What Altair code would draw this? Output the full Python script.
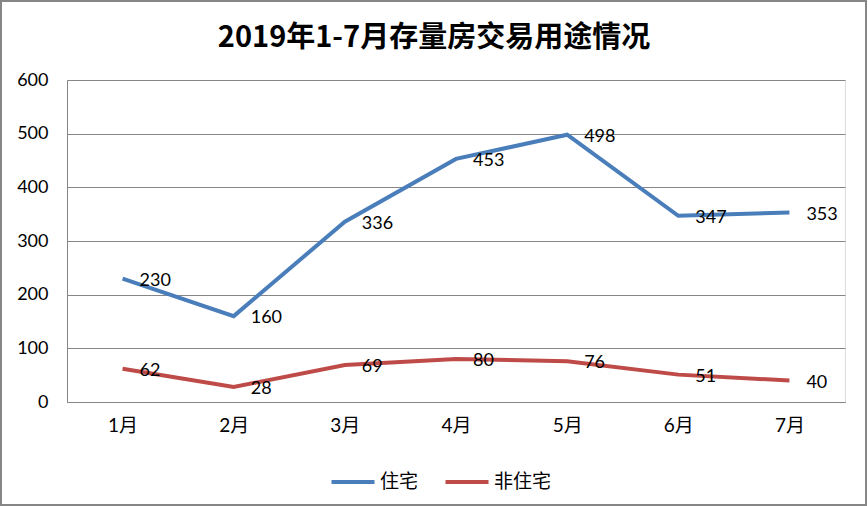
import altair as alt
import pandas as pd

months = ["1月", "2月", "3月", "4月", "5月", "6月", "7月"]
residential = [230, 160, 336, 453, 498, 347, 353]
non_residential = [62, 28, 69, 80, 76, 51, 40]
series_names = ["住宅", "非住宅"]
colors = ["#4A7EBB", "#BE4B48"]
title_text = "2019年1-7月存量房交易用途情况"

rows = []
for m, v in zip(months, residential):
    rows.append({"month": m, "value": v, "series": series_names[0]})
for m, v in zip(months, non_residential):
    rows.append({"month": m, "value": v, "series": series_names[1]})
df = pd.DataFrame(rows)

FONT = "Lato, Noto Sans CJK SC"
W, H = 778, 322

x = alt.X("month:N", sort=months, title=None,
          scale=alt.Scale(type="point", padding=0.5),
          axis=alt.Axis(labelAngle=0, ticks=False, domainColor="#868686",
                        labelFontSize=19, labelPadding=14, labelColor="#000000",
                        labelFont=FONT, grid=False))
y = alt.Y("value:Q", title=None,
          scale=alt.Scale(domain=[0, 600], nice=False),
          axis=alt.Axis(values=[0, 100, 200, 300, 400, 500, 600], ticks=False,
                        domainColor="#868686", gridColor="#868686", gridWidth=1,
                        labelFontSize=18, labelPadding=19, labelColor="#000000",
                        labelFont=FONT))
color = alt.Color("series:N", sort=series_names,
                  scale=alt.Scale(domain=series_names, range=colors),
                  legend=alt.Legend(title=None, orient="none", direction="horizontal",
                                    legendX=262, legendY=378,
                                    symbolType="stroke", symbolSize=1850,
                                    symbolStrokeWidth=4, labelFontSize=19,
                                    labelFont=FONT, labelColor="#000000",
                                    columnPadding=18, labelOffset=3))

lines = alt.Chart(df).mark_line(strokeWidth=4).encode(x=x, y=y, color=color)
labels = alt.Chart(df).mark_text(align="left", baseline="middle", dx=17, dy=2,
                                 fontSize=18, font=FONT, color="#000000").encode(
    x=alt.X("month:N", sort=months), y="value:Q", text="value:Q")

one = pd.DataFrame({"t": [title_text]})
border = alt.Chart(one).mark_rect(
    fill=None, stroke="#868686", strokeWidth=2).encode(
    x=alt.value(-66), x2=alt.value(W + 21), y=alt.value(-79), y2=alt.value(H + 103))
title = alt.Chart(one).mark_text(
    align="center", baseline="middle", fontSize=29, fontWeight="bold",
    font="Liberation Sans Narrow, Noto Sans CJK SC", color="#000000").encode(
    x=alt.value(367), y=alt.value(-42), text="t:N")

chart = alt.layer(border, title, lines, labels).properties(
    width=W, height=H,
    padding={"left": 67, "top": 80, "right": 23, "bottom": 104},
    autosize=alt.AutoSizeParams(type="none"),
).configure_view(stroke=None).configure(background="white")

chart.save("out.html", embed_options={"renderer": "svg", "actions": False})
